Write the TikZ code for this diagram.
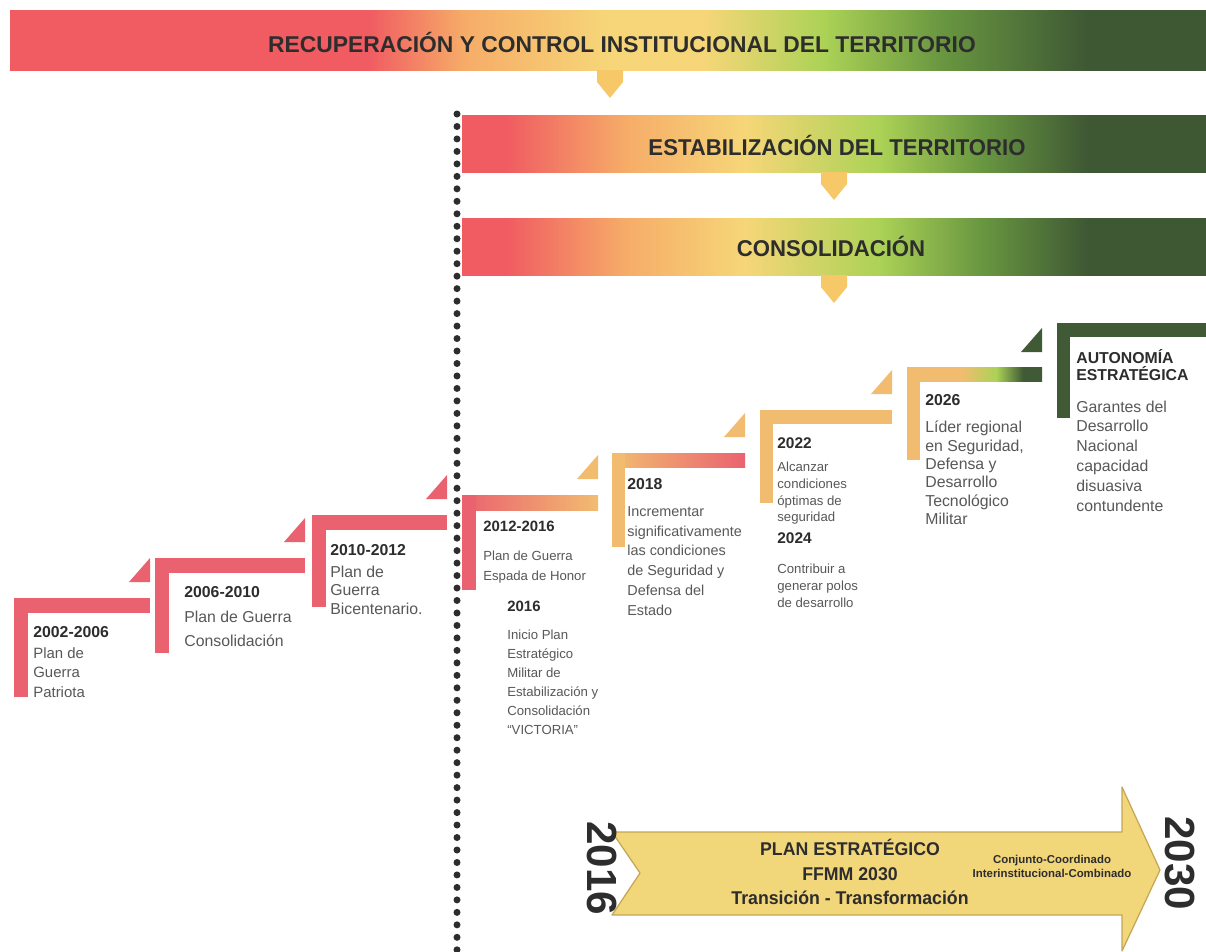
\documentclass[tikz,border=0pt]{standalone}
\usepackage{fontspec}
\setmainfont{Liberation Sans}
\usetikzlibrary{positioning}

\definecolor{bred}{RGB}{240,92,98}
\definecolor{borange}{RGB}{246,172,104}
\definecolor{byellow}{RGB}{246,214,120}
\definecolor{blgreen}{RGB}{172,210,86}
\definecolor{bgreen}{RGB}{104,150,64}
\definecolor{bdark}{RGB}{62,88,52}
\definecolor{stepred}{RGB}{234,98,112}
\definecolor{steporange}{RGB}{242,188,112}
\definecolor{stepgreen}{RGB}{64,90,54}
\definecolor{txtgray}{RGB}{88,88,88}
\definecolor{inkdark}{RGB}{45,45,45}
\definecolor{dropfill}{RGB}{246,200,104}
\definecolor{planfill}{RGB}{242,214,122}
\definecolor{planedge}{RGB}{196,166,84}

\pgfdeclarehorizontalshading{topfade}{100bp}{color(0bp)=(bred); color(25bp)=(bred);
  color(40bp)=(bred); color(44bp)=(borange); color(50bp)=(byellow); color(54bp)=(byellow);
  color(59bp)=(blgreen); color(64bp)=(bgreen); color(70bp)=(bdark); color(100bp)=(bdark)}
\pgfdeclarehorizontalshading{subfade}{100bp}{color(0bp)=(bred); color(25bp)=(bred);
  color(28bp)=(bred); color(36bp)=(borange); color(44bp)=(byellow); color(53bp)=(blgreen);
  color(60bp)=(bgreen); color(67bp)=(bdark); color(100bp)=(bdark)}
\pgfdeclarehorizontalshading{risefade}{100bp}{color(0bp)=(steporange); color(25bp)=(steporange);
  color(45bp)=(steporange); color(58bp)=(blgreen); color(68bp)=(stepgreen); color(100bp)=(stepgreen)}

\newcommand{\tight}[1]{\scalebox{0.97}[1]{#1}}
\newcommand{\yr}[1]{\textcolor{inkdark}{\bfseries #1}}

\begin{document}
\begin{tikzpicture}[x=0.02cm, y=-0.02cm,
  bannertext/.style={font=\fontsize{13}{13}\selectfont\bfseries, text=inkdark, inner sep=0pt},
  droparrow/.style={fill=dropfill},
  dotline/.style={draw=inkdark, line width=0.14cm, line cap=round, dash pattern=on 0pt off 7.1pt},
  steptext/.style={anchor=north west, inner sep=0pt, align=left, text=txtgray,
    font=\fontsize{7.5}{10}\selectfont},
  planarrow/.style={fill=planfill, draw=planedge, line width=0.7pt, line join=round},
  bigyear/.style={font=\fontsize{24}{24}\selectfont\bfseries, text=inkdark, rotate=-90, inner sep=0pt}]

  \useasboundingbox (0,0) rectangle (1206,951);
  \fill[white] (0,0) rectangle (1206,951);

  % banners
  \shade[shading=topfade] (10,10) rectangle (1206,70);
  \node[bannertext] (recup) at (622,42) {\scalebox{1}[1]{RECUPERACIÓN Y CONTROL INSTITUCIONAL DEL TERRITORIO}};
  \fill[droparrow] (597,70) -- ++(26,0) -- ++(0,12) -- ++(-13,16) -- ++(-13,-16) -- cycle;

  \shade[shading=subfade] (462,115) rectangle (1206,172);
  \node[bannertext] (estab) at (837,145) {\tight{ESTABILIZACIÓN DEL TERRITORIO}};
  \fill[droparrow] (821,172) -- ++(26,0) -- ++(0,12) -- ++(-13,16) -- ++(-13,-16) -- cycle;

  \shade[shading=subfade] (462,218) rectangle (1206,275);
  \node[bannertext] (consol) at (831,246) {\tight{CONSOLIDACIÓN}};
  \fill[droparrow] (821,275) -- ++(26,0) -- ++(0,12) -- ++(-13,16) -- ++(-13,-16) -- cycle;

  % divider
  \draw[dotline] (457,114) -- (457,951);

  % steps before 2016
  \fill[stepred] (14,598) rectangle (150,613);
  \fill[stepred] (14,598) rectangle (28,697);
  \fill[stepred] (129,582) -- (150,582) -- (150,558) -- cycle;
  \fill[stepred] (155,558) rectangle (305,573);
  \fill[stepred] (155,558) rectangle (169,653);
  \fill[stepred] (284,542) -- (305,542) -- (305,518) -- cycle;
  \fill[stepred] (312,515) rectangle (447,530);
  \fill[stepred] (312,515) rectangle (326,607);
  \fill[stepred] (426,499) -- (447,499) -- (447,475) -- cycle;

  % steps after 2016
  \shade[left color=stepred, right color=steporange] (462,495) rectangle (598,510);
  \fill[stepred] (462,495) rectangle (476,590);
  \fill[steporange] (577,479) -- (598,479) -- (598,455) -- cycle;
  \shade[left color=steporange, right color=stepred] (612,453) rectangle (745,467);
  \fill[steporange] (612,453) rectangle (625,547);
  \fill[steporange] (724,437) -- (745,437) -- (745,413) -- cycle;
  \fill[steporange] (760,410) rectangle (892,424);
  \fill[steporange] (760,410) rectangle (773,503);
  \fill[steporange] (871,394) -- (892,394) -- (892,370) -- cycle;
  \shade[shading=risefade] (907,367) rectangle (1042,381);
  \fill[steporange] (907,367) rectangle (920,460);
  \fill[stepgreen] (1021,352) -- (1042,352) -- (1042,328) -- cycle;
  \fill[stepgreen] (1057,323) rectangle (1206,337);
  \fill[stepgreen] (1057,323) rectangle (1070,418);

  % step texts
  \node[steptext, font=\fontsize{8.5}{11}\selectfont] (s1) at (33,626)
    {\yr{\fontsize{9}{11}\selectfont 2002-2006}\\[1pt]Plan de\\Guerra\\Patriota};
  \node[steptext, font=\fontsize{9}{11}\selectfont] (s2) at (184,586)
    {\yr{2006-2010}\\[3pt]Plan de Guerra\\[3pt]Consolidación};
  \node[steptext, font=\fontsize{9}{10.5}\selectfont] (s3) at (330,544)
    {\yr{2010-2012}\\[2pt]Plan de\\Guerra\\Bicentenario.};
  \node[steptext, font=\fontsize{7.5}{11.5}\selectfont] (s4) at (483,521)
    {\yr{\fontsize{8.5}{11.5}\selectfont 2012-2016}\\[5pt]Plan de Guerra\\Espada de Honor};
  \node[steptext, font=\fontsize{7.5}{10.8}\selectfont] (s4b) at (507,601)
    {\yr{\fontsize{8.5}{10.8}\selectfont 2016}\\[5pt]Inicio Plan\\Estratégico\\Militar de\\Estabilización y\\Consolidación\\``VICTORIA''};
  \node[steptext, font=\fontsize{8.2}{11.3}\selectfont] (s5) at (627,478)
    {\yr{\fontsize{9}{11.3}\selectfont 2018}\\[4pt]Incrementar\\significativamente\\las condiciones\\de Seguridad y\\Defensa del\\Estado};
  \node[steptext, font=\fontsize{7.5}{9.5}\selectfont] (s6) at (777,437)
    {\yr{\fontsize{8.8}{9.5}\selectfont 2022}\\[4pt]Alcanzar\\condiciones\\óptimas de\\seguridad};
  \node[steptext, font=\fontsize{7.5}{9.5}\selectfont] (s6b) at (777,532)
    {\yr{\fontsize{8.8}{9.5}\selectfont 2024}\\[8pt]Contribuir a\\generar polos\\de desarrollo};
  \node[steptext, font=\fontsize{9}{10.5}\selectfont] (s7) at (925,394)
    {\yr{2026}\\[5pt]Líder regional\\en Seguridad,\\Defensa y\\Desarrollo\\Tecnológico\\Militar};
  \node[steptext, font=\fontsize{9}{11.3}\selectfont] (s8) at (1076,349)
    {\yr{AUTONOMÍA}\\[-1.7pt]\yr{ESTRATÉGICA}\\[6.8pt]Garantes del\\Desarrollo\\Nacional\\capacidad\\disuasiva\\contundente};

  % strategic plan arrow
  \filldraw[planarrow] (612,832) -- (1122,832) -- (1122,787) -- (1160,870) -- (1122,951)
    -- (1122,915) -- (612,915) -- (640,873) -- cycle;
  \node[bigyear] (y2016) at (602,868) {2016};
  \node[bigyear] (y2030) at (1180,863) {2030};
  \node[align=center, inner sep=0pt, text=inkdark, font=\fontsize{10.5}{14}\selectfont\bfseries] (plan) at (850,872)
    {\scalebox{0.96}[1]{PLAN ESTRATÉGICO}\\\scalebox{0.96}[1]{FFMM 2030}\\\scalebox{0.96}[1]{Transición - Transformación}};
  \node[align=center, inner sep=0pt, text=inkdark, font=\fontsize{6.5}{8}\selectfont\bfseries] (joint) at (1052,866)
    {Conjunto-Coordinado\\Interinstitucional-Combinado};
\end{tikzpicture}
\end{document}
